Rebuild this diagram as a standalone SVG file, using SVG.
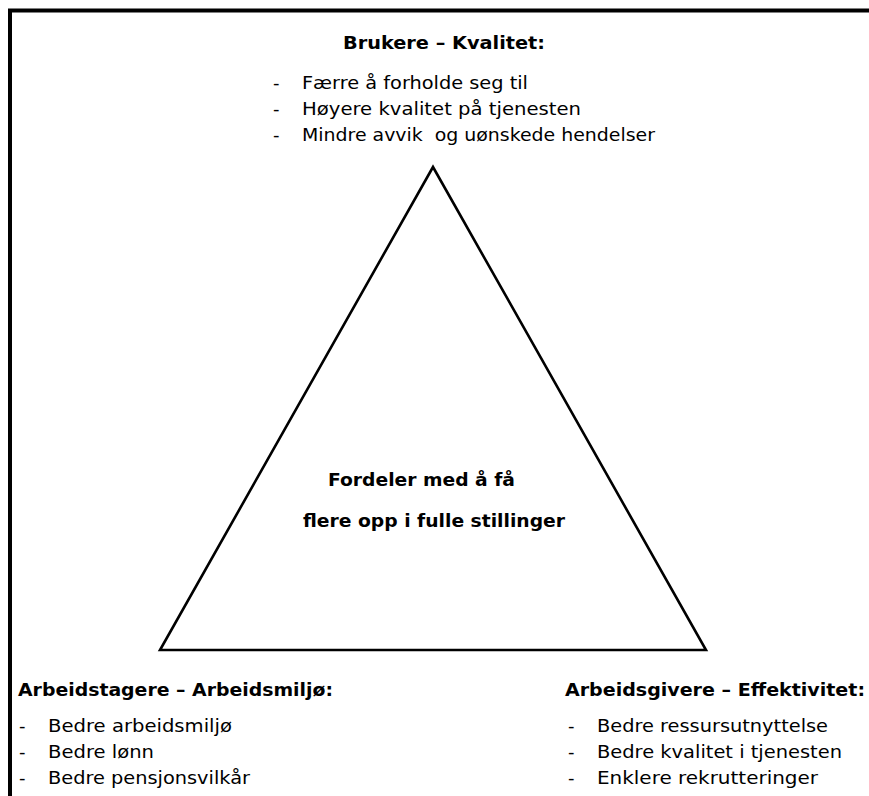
<svg xmlns="http://www.w3.org/2000/svg" width="869" height="796" viewBox="0 0 869 796">
  <style>
    .h { font-family: "DejaVu Sans", Verdana, sans-serif; font-weight: bold; font-size: 18px; fill: #000; }
    .t { font-family: "DejaVu Sans", Verdana, sans-serif; font-size: 18px; fill: #000; }
    .frame { fill: none; stroke: #000; stroke-width: 4; }
  </style>
  <rect width="869" height="796" fill="#fff"/>
  <!-- page frame (top and left edges) -->
  <path class="frame" d="M10,800 V10.5 H872"/>

  <g id="connectors">
    <polygon points="433,167 160,650 706,650" fill="none" stroke="#000" stroke-width="2.6" stroke-linejoin="miter"/>
  </g>

  <g id="center">
    <text class="h" x="328" y="486" textLength="187" lengthAdjust="spacingAndGlyphs">Fordeler med å få</text>
    <text class="h" x="303" y="527" textLength="262" lengthAdjust="spacingAndGlyphs">flere opp i fulle stillinger</text>
  </g>

  <g id="brukere">
    <text class="h" x="343" y="49" textLength="202" lengthAdjust="spacingAndGlyphs">Brukere – Kvalitet:</text>
    <text class="t" x="273" y="89">-</text>
    <text class="t" x="302" y="89" textLength="226" lengthAdjust="spacingAndGlyphs">Færre å forholde seg til</text>
    <text class="t" x="273" y="115">-</text>
    <text class="t" x="302" y="115" textLength="279" lengthAdjust="spacingAndGlyphs">Høyere kvalitet på tjenesten</text>
    <text class="t" x="273" y="141">-</text>
    <text class="t" x="302" y="141" textLength="353" lengthAdjust="spacingAndGlyphs" xml:space="preserve">Mindre avvik  og uønskede hendelser</text>
  </g>

  <g id="arbeidstagere">
    <text class="h" x="18" y="696" textLength="315" lengthAdjust="spacingAndGlyphs">Arbeidstagere – Arbeidsmiljø:</text>
    <text class="t" x="19" y="732">-</text>
    <text class="t" x="48" y="732" textLength="184" lengthAdjust="spacingAndGlyphs">Bedre arbeidsmiljø</text>
    <text class="t" x="19" y="758">-</text>
    <text class="t" x="48" y="758" textLength="106" lengthAdjust="spacingAndGlyphs">Bedre lønn</text>
    <text class="t" x="19" y="784">-</text>
    <text class="t" x="48" y="784" textLength="202" lengthAdjust="spacingAndGlyphs">Bedre pensjonsvilkår</text>
  </g>

  <g id="arbeidsgivere">
    <text class="h" x="565" y="696" textLength="300" lengthAdjust="spacingAndGlyphs">Arbeidsgivere – Effektivitet:</text>
    <text class="t" x="568" y="732">-</text>
    <text class="t" x="597" y="732" textLength="231" lengthAdjust="spacingAndGlyphs">Bedre ressursutnyttelse</text>
    <text class="t" x="568" y="758">-</text>
    <text class="t" x="597" y="758" textLength="245" lengthAdjust="spacingAndGlyphs">Bedre kvalitet i tjenesten</text>
    <text class="t" x="568" y="784">-</text>
    <text class="t" x="597" y="784" textLength="221" lengthAdjust="spacingAndGlyphs">Enklere rekrutteringer</text>
  </g>
</svg>
